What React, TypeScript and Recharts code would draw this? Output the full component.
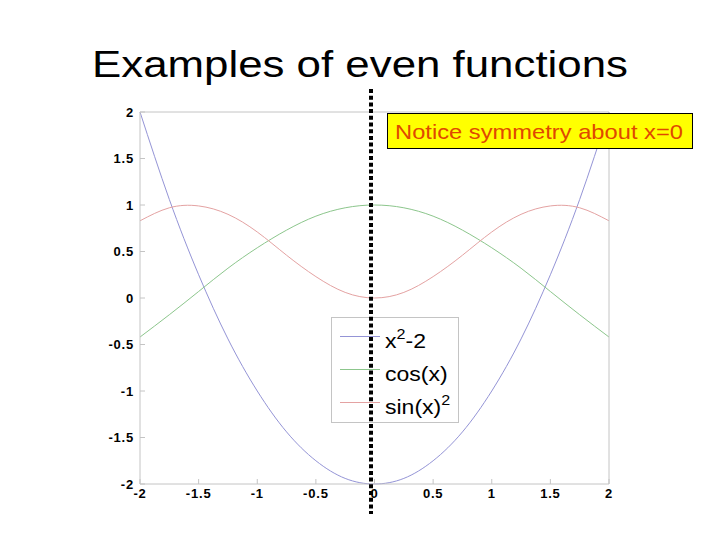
import { Legend, Line, LineChart, XAxis, YAxis } from "recharts";

// sample points (step 0.25)
const xs = [-2, -1.75, -1.5, -1.25, -1, -0.75, -0.5, -0.25, 0, 0.25, 0.5, 0.75, 1, 1.25, 1.5, 1.75, 2];
const quad = [2, 1.06, 0.25, -0.44, -1, -1.44, -1.75, -1.94, -2, -1.94, -1.75, -1.44, -1, -0.44, 0.25, 1.06, 2];
const cosv = [-0.42, -0.18, 0.07, 0.32, 0.54, 0.73, 0.88, 0.97, 1, 0.97, 0.88, 0.73, 0.54, 0.32, 0.07, -0.18, -0.42];
const sin2 = [0.83, 0.97, 0.99, 0.9, 0.71, 0.46, 0.23, 0.06, 0, 0.06, 0.23, 0.46, 0.71, 0.9, 0.99, 0.97, 0.83];

const xTicks = [-2, -1.5, -1, -0.5, 0, 0.5, 1, 1.5, 2];
const yTicks = [-2, -1.5, -1, -0.5, 0, 0.5, 1, 1.5, 2];
const seriesOrder = ["quad", "cos", "sin2"];

const data = xs.map((x, i) => ({ x, quad: quad[i], cos: cosv[i], sin2: sin2[i] }));

const FONT = '"Liberation Sans", Arial, sans-serif';
const AXIS = "#c4c4c4";
const tickStyle = { fill: "#000", fontSize: 13, fontWeight: 700, fontFamily: FONT, letterSpacing: 0.8 };

const supStyle = { fontSize: 14, verticalAlign: 9, lineHeight: 0 };
const legendLabels: Record<string, JSX.Element> = {
  quad: (
    <span>
      x<sup style={supStyle}>2</sup>-2
    </span>
  ),
  cos: <span>cos(x)</span>,
  sin2: (
    <span>
      sin(x)<sup style={supStyle}>2</sup>
    </span>
  ),
};

function LegendBox(props: any) {
  const items = [...(props.payload || [])].sort(
    (a: any, b: any) => seriesOrder.indexOf(a.dataKey) - seriesOrder.indexOf(b.dataKey)
  );
  return (
    <div
      style={{
        position: "relative",
        width: 126,
        height: 104,
        border: `1px solid ${AXIS}`,
        background: "#fff",
        fontFamily: FONT,
      }}
    >
      {items.map((it: any, i: number) => (
        <div
          key={it.dataKey}
          style={{ position: "absolute", left: 8, top: 2 + i * 33, height: 33, display: "flex", alignItems: "center" }}
        >
          <div style={{ width: 40, height: 1, background: it.color }} />
          <div
            style={{
              marginLeft: 5,
              marginTop: 8,
              fontSize: 20,
              lineHeight: "22px",
              whiteSpace: "nowrap",
              transform: "scaleX(1.15)",
              transformOrigin: "left center",
            }}
          >
            {legendLabels[it.dataKey]}
          </div>
        </div>
      ))}
    </div>
  );
}

export default function App() {
  return (
    <div style={{ position: "absolute", left: 0, top: 0, width: 720, height: 540, background: "#fff" }}>
      <LineChart width={720} height={540} data={data} margin={{ top: 102, right: 101, bottom: 26, left: 100 }}>
        <XAxis
          xAxisId="b"
          type="number"
          dataKey="x"
          domain={[-2, 2]}
          ticks={xTicks}
          height={30}
          stroke={AXIS}
          tickSize={-5}
          tickMargin={10}
          tick={tickStyle}
          interval={0}
        />
        <XAxis
          xAxisId="t"
          orientation="top"
          type="number"
          dataKey="x"
          domain={[-2, 2]}
          ticks={xTicks}
          height={10}
          stroke={AXIS}
          tickSize={-5}
          tick={false}
        />
        <YAxis
          yAxisId="l"
          type="number"
          domain={[-2, 2]}
          ticks={yTicks}
          width={40}
          stroke={AXIS}
          tickSize={-5}
          tickMargin={11}
          tick={tickStyle}
          interval={0}
        />
        <YAxis
          yAxisId="r"
          orientation="right"
          type="number"
          domain={[-2, 2]}
          ticks={yTicks}
          width={10}
          stroke={AXIS}
          tickSize={-5}
          tick={false}
        />
        <Line xAxisId="b" yAxisId="l" type="natural" dataKey="quad" stroke="#9494d6" strokeWidth={1} dot={false} isAnimationActive={false} />
        <Line xAxisId="b" yAxisId="l" type="natural" dataKey="cos" stroke="#8cc68c" strokeWidth={1} dot={false} isAnimationActive={false} />
        <Line xAxisId="b" yAxisId="l" type="natural" dataKey="sin2" stroke="#e4a2a2" strokeWidth={1} dot={false} isAnimationActive={false} />
        <Legend
          layout="vertical"
          align="center"
          verticalAlign="middle"
          content={LegendBox}
          wrapperStyle={{ left: 331, top: 317, width: 128, height: 106 }}
        />
      </LineChart>
      <svg width={720} height={540} style={{ position: "absolute", left: 0, top: 0, pointerEvents: "none" }}>
        <text x={92} y={77} fontFamily={FONT} fontSize={37} fill="#000" textLength={536} lengthAdjust="spacingAndGlyphs">
          Examples of even functions
        </text>
        <rect x={387.5} y={113.5} width={305} height={35} fill="#ffff00" stroke="#000" strokeWidth={1} />
        <text x={395} y={139} fontFamily={FONT} fontSize={21} fill="#e04800" textLength={288} lengthAdjust="spacingAndGlyphs">
          Notice symmetry about x=0
        </text>
        <line x1={371} y1={89} x2={371} y2={514} stroke="#000" strokeWidth={4} strokeDasharray="4 2.7" />
      </svg>
    </div>
  );
}
